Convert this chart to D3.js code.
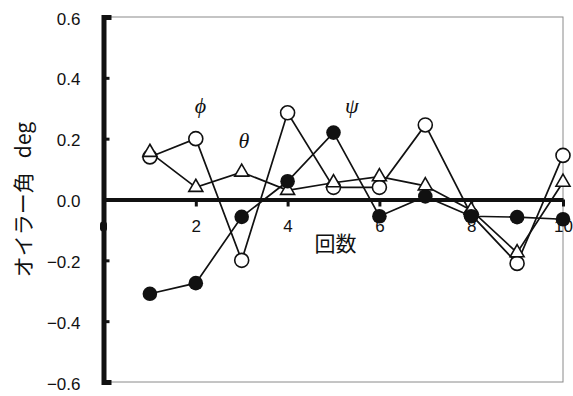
<!DOCTYPE html>
<html>
<head>
<meta charset="utf-8">
<script src="https://cdn.jsdelivr.net/npm/d3@7"></script>
<style>
  html, body { margin: 0; padding: 0; background: #fff; }
  svg { display: block; }
</style>
</head>
<body>
<svg id="chart" width="573" height="396"></svg>
<script>
// Trial number (回数) on x, Euler angle in degrees on y
const trials = [1, 2, 3, 4, 5, 6, 7, 8, 9, 10];
const phiValues   = [0.14, 0.20, -0.20, 0.285, 0.04, 0.04, 0.245, -0.05, -0.21, 0.145];
const thetaValues = [0.155, 0.04, 0.09, 0.03, 0.055, 0.075, 0.045, -0.035, -0.175, 0.057];
const psiValues   = [-0.31, -0.275, -0.057, 0.06, 0.22, -0.055, 0.01, -0.055, -0.058, -0.065];
const xTicks = [2, 4, 6, 8, 10];
const yTicks = [-0.6, -0.4, -0.2, 0.0, 0.2, 0.4, 0.6];
const seriesNames = [
  { text: "\u03D5", x: 2.1, y: 0.30 },
  { text: "\u03B8", x: 3.05, y: 0.185 },
  { text: "\u03C8", x: 5.4, y: 0.30 }
];

const svg = d3.select("#chart");
const x = d3.scaleLinear().domain([0, 10]).range([104, 563]);
const y = d3.scaleLinear().domain([-0.6, 0.6]).range([382, 17]);

const numFont = "'Liberation Sans', Arial, sans-serif";
const cjkFont = "'Noto Sans CJK JP', sans-serif";

// thin frame around the plot area
svg.append("rect")
  .attr("x", x(0)).attr("y", y(0.6))
  .attr("width", x(10) - x(0)).attr("height", y(-0.6) - y(0.6))
  .attr("fill", "none").attr("stroke", "#8a8a8a").attr("stroke-width", 1);

// x axis drawn along zero
const xAxis = svg.append("g")
  .attr("transform", `translate(0,${y(0)})`)
  .call(d3.axisBottom(x).tickValues(xTicks).tickSize(7).tickSizeOuter(0).tickPadding(13.5).tickFormat(d3.format("d")));
xAxis.select(".domain").attr("stroke", "#111").attr("stroke-width", 4);
xAxis.selectAll(".tick line").attr("stroke", "#111").attr("stroke-width", 3);
xAxis.selectAll(".tick text").attr("font-family", numFont).attr("font-size", 17).attr("fill", "#111");

// stray mark below the origin on the left axis
svg.append("rect")
  .attr("x", x(0) - 4).attr("y", y(0) + 22)
  .attr("width", 7).attr("height", 10).attr("rx", 3)
  .attr("fill", "#111");

// y axis with inward ticks
const yAxis = svg.append("g")
  .attr("transform", `translate(${x(0) - 0.5},0)`)
  .call(d3.axisLeft(y).tickValues(yTicks).tickSize(-6).tickSizeOuter(-8).tickPadding(23).tickFormat(d3.format(".1f")));
yAxis.select(".domain").attr("stroke", "#111").attr("stroke-width", 5).attr("fill", "none");
yAxis.selectAll(".tick line").attr("stroke", "#111").attr("stroke-width", 3);
yAxis.selectAll(".tick text").attr("font-family", numFont).attr("font-size", 17).attr("fill", "#111").attr("dy", "0.42em");

// axis titles
svg.append("text")
  .attr("x", (x(10) + x(0)) / 2 + 2).attr("y", y(0) + 51)
  .attr("text-anchor", "middle")
  .attr("font-family", cjkFont).attr("font-size", 21).attr("fill", "#111")
  .text("回数");

const yTitle = svg.append("text")
  .attr("transform", `translate(31,${(y(0.6) + y(-0.6)) / 2}) rotate(-90)`)
  .attr("text-anchor", "middle")
  .attr("font-family", cjkFont).attr("font-size", 21).attr("fill", "#111");
yTitle.append("tspan").text("オイラー角");
yTitle.append("tspan").attr("dx", 14).text("deg");

// series lines
const line = d3.line().x((d, i) => x(trials[i])).y(d => y(d));
[psiValues, phiValues, thetaValues].forEach(vals => {
  svg.append("path")
    .datum(vals)
    .attr("d", line)
    .attr("fill", "none").attr("stroke", "#111").attr("stroke-width", 1.7);
});

// markers: open circles (ϕ), open triangles (θ), filled circles (ψ)
svg.append("g").selectAll("circle").data(phiValues).join("circle")
  .attr("cx", (d, i) => x(trials[i])).attr("cy", d => y(d))
  .attr("r", 7).attr("fill", "#fff").attr("stroke", "#111").attr("stroke-width", 1.6);

const tri = d3.symbol().type(d3.symbolTriangle).size(85);
svg.append("g").selectAll("path").data(thetaValues).join("path")
  .attr("transform", (d, i) => `translate(${x(trials[i])},${y(d)})`)
  .attr("d", tri)
  .attr("fill", "#fff").attr("stroke", "#111").attr("stroke-width", 1.6);

svg.append("g").selectAll("circle").data(psiValues).join("circle")
  .attr("cx", (d, i) => x(trials[i])).attr("cy", d => y(d))
  .attr("r", 7.3).attr("fill", "#111");

// series name annotations
svg.append("g").selectAll("text").data(seriesNames).join("text")
  .attr("x", d => x(d.x)).attr("y", d => y(d.y))
  .attr("text-anchor", "middle").attr("dominant-baseline", "middle")
  .attr("font-family", "'Liberation Serif', 'DejaVu Serif', serif")
  .attr("font-style", "italic").attr("font-size", 22).attr("fill", "#111")
  .text(d => d.text);
</script>
</body>
</html>
